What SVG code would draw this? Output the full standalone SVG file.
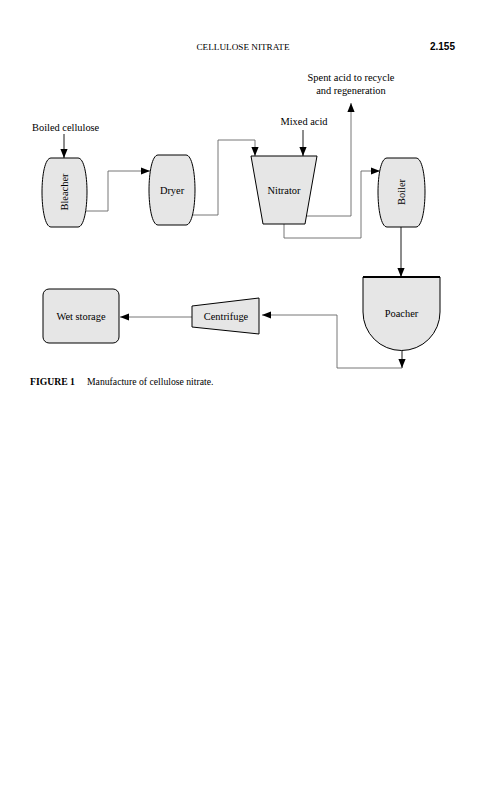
<svg xmlns="http://www.w3.org/2000/svg" width="481" height="800" viewBox="0 0 481 800">
<style>
text{font-family:"Liberation Serif","Times New Roman",serif;fill:#000}
.lbl{font-size:10.4px}
.node{fill:#e6e6e6;stroke:#000;stroke-width:1}
.c{fill:none;stroke:#666;stroke-width:0.9}
.k{fill:none;stroke:#000;stroke-width:0.9}
</style>
<defs>
<marker id="ah" viewBox="0 0 10 10" refX="10" refY="5" markerWidth="9" markerHeight="9" markerUnits="userSpaceOnUse" orient="auto">
<path d="M0,1 L10,5 L0,9 Z" fill="#000"/>
</marker>
</defs>
<rect width="481" height="800" fill="#fff"/>
<text x="243" y="50" font-size="9.2" text-anchor="middle">CELLULOSE NITRATE</text>
<text x="455" y="50" font-size="10" font-weight="bold" text-anchor="end" style="font-family:'Liberation Sans',Arial,sans-serif">2.155</text>

<g id="connectors">
<path class="k" d="M64,134 V158" marker-end="url(#ah)"/>
<path class="c" d="M86,211 H108 V171 H150" marker-end="url(#ah)"/>
<path class="c" d="M193,215 H218 V140 H255 V156" marker-end="url(#ah)"/>
<path class="k" d="M303,130 V156" marker-end="url(#ah)"/>
<path class="c" d="M306,216 H351 V103" marker-end="url(#ah)"/>
<path class="c" d="M284,224 V238 H361 V171 H380" marker-end="url(#ah)"/>
<path class="k" d="M401,227 V277" marker-end="url(#ah)"/>
<path class="k" d="M402,350 V368" marker-end="url(#ah)"/>
<path class="c" d="M402,368 H337 V315 H262" marker-end="url(#ah)"/>
<path class="c" d="M192,317 H120" marker-end="url(#ah)"/>
</g>

<g id="boiled-cellulose"><text class="lbl" x="32" y="131">Boiled cellulose</text></g>
<g id="mixed-acid"><text class="lbl" x="304" y="125" text-anchor="middle">Mixed acid</text></g>
<g id="spent-acid">
<text class="lbl" x="351" y="81" text-anchor="middle">Spent acid to recycle</text>
<text class="lbl" x="351" y="94" text-anchor="middle">and regeneration</text>
</g>

<g id="bleacher">
<path class="node" d="M51,158 H78 C84,158 87,175 87,192 C87,209 84,227 78,227 H51 C45,227 42,209 42,192 C42,175 45,158 51,158 Z"/>
<text class="lbl" transform="translate(68,192) rotate(-90)" text-anchor="middle">Bleacher</text>
</g>
<g id="dryer">
<path class="node" d="M158,155 H186 C192,155 195,173 195,190 C195,207 192,225 186,225 H158 C152,225 149,207 149,190 C149,173 152,155 158,155 Z"/>
<text class="lbl" x="172" y="194" text-anchor="middle">Dryer</text>
</g>
<g id="nitrator">
<path class="node" d="M251,156 H317 L305,224 H263 Z"/>
<text class="lbl" x="284" y="194" text-anchor="middle">Nitrator</text>
</g>
<g id="boiler">
<path class="node" d="M387,158 H416 C422,158 425,175 425,192 C425,209 422,227 416,227 H387 C381,227 378,209 378,192 C378,175 381,158 387,158 Z"/>
<text class="lbl" transform="translate(405,192) rotate(-90)" text-anchor="middle">Boiler</text>
</g>
<g id="poacher">
<path class="node" d="M363,277 H440 V312 A38.5,38.5 0 0 1 363,312 Z"/>
<path d="M363,277 H440" stroke="#000" stroke-width="2"/>
<text class="lbl" x="401.5" y="317" text-anchor="middle">Poacher</text>
</g>
<g id="centrifuge">
<path class="node" d="M192,306 L259,298 V334 L192,327 Z"/>
<text class="lbl" x="226" y="320" text-anchor="middle">Centrifuge</text>
</g>
<g id="wet-storage">
<rect class="node" x="43" y="289" width="76" height="54" rx="6"/>
<text class="lbl" x="81" y="320" text-anchor="middle">Wet storage</text>
</g>

<text x="30" y="385" font-size="9.7"><tspan font-weight="bold">FIGURE 1</tspan><tspan x="87">Manufacture of cellulose nitrate.</tspan></text>
</svg>
